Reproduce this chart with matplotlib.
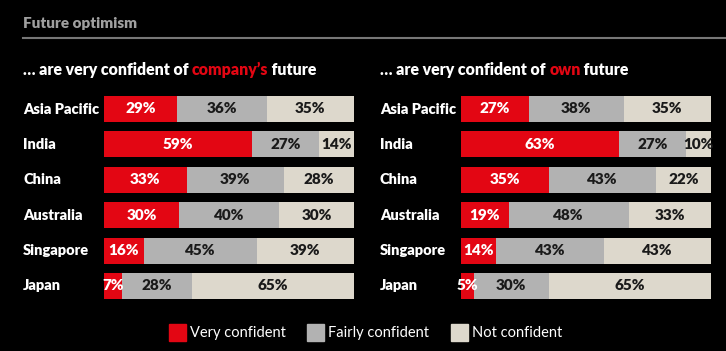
import matplotlib
matplotlib.use("Agg")
import matplotlib.pyplot as plt
from matplotlib.patches import Rectangle

# ── data ─────────────────────────────────────────────────────────────
countries = ["Asia Pacific", "India", "China", "Australia", "Singapore", "Japan"]
company_very = [29, 59, 33, 30, 16, 7]
company_fairly = [36, 27, 39, 40, 45, 28]
company_not = [35, 14, 28, 30, 39, 65]
own_very = [27, 63, 35, 19, 14, 5]
own_fairly = [38, 27, 43, 48, 43, 30]
own_not = [35, 10, 22, 33, 43, 65]
legend_labels = ["Very confident", "Fairly confident", "Not confident"]

RED, GREY, BEIGE = "#e30613", "#b2b2b2", "#ddd8cc"
BG = "#000000"
FONT = ["Lato", "DejaVu Sans"]
plt.rcParams["font.family"] = FONT

W, H = 726, 351
fig = plt.figure(figsize=(W / 100, H / 100), dpi=100, facecolor=BG)


def px(x, y):
    return x / W, 1 - y / H


# ── title + rule ─────────────────────────────────────────────────────
fig.text(*px(23, 23), "Future optimism", color="#a0a0a0", fontsize=11,
         fontweight="heavy", va="center", ha="left")
fig.add_artist(plt.Line2D([23 / W, 1], [1 - 38 / H] * 2, color="#777777", lw=1.5))


def rich_title(x, y, parts):
    fig.canvas.draw()
    r = fig.canvas.get_renderer()
    cx = x
    for s, c in parts:
        t = fig.text(*px(cx, y), s, color=c, fontsize=11.4, fontweight="heavy",
                     va="center", ha="left")
        bb = t.get_window_extent(renderer=r)
        cx += bb.width


def panel(x0, label_x, very, fairly, notc):
    ax = fig.add_axes([x0 / W, 1 - 299 / H, 250 / W, 203 / H])
    ax.set_facecolor(BG)
    h = 26 / 35.4
    ax.set_xlim(0, 100)
    ax.set_ylim(5 + h / 2, -h / 2)
    ax.set_axis_off()
    for i, name in enumerate(countries):
        segs = [(very[i], RED, "white"), (fairly[i], GREY, "#1a1a1a"),
                (notc[i], BEIGE, "#1a1a1a")]
        left = 0
        for v, col, tc in segs:
            ax.barh(i, v, left=left, height=h, color=col, edgecolor="none")
            ax.text(left + v / 2, i, f"{v}%", ha="center", va="center",
                    color=tc, fontsize=11, fontweight="heavy")
            left += v
        fig.text(*px(label_x, 96 + 13 + i * 35.4), name, color="white",
                 fontsize=10.5, fontweight="heavy", va="center", ha="left")


panel(104, 23, company_very, company_fairly, company_not)
panel(461, 380, own_very, own_fairly, own_not)

rich_title(23, 70, [("\u2026 are very confident of ", "white"),
                    ("company\u2019s", RED), (" future", "white")])
rich_title(380, 70, [("\u2026 are very confident of ", "white"),
                     ("own", RED), (" future", "white")])

# ── legend ───────────────────────────────────────────────────────────
for (sx, tx), col, lab in zip([(169, 190), (307, 328), (451, 472)],
                              [RED, GREY, BEIGE], legend_labels):
    fig.add_artist(Rectangle(px(sx, 341), 17 / W, 17 / H, color=col,
                             transform=fig.transFigure))
    fig.text(*px(tx, 333), lab, color="white", fontsize=10.5,
             va="center", ha="left")

fig.savefig("out.png", dpi=100, facecolor=BG)
